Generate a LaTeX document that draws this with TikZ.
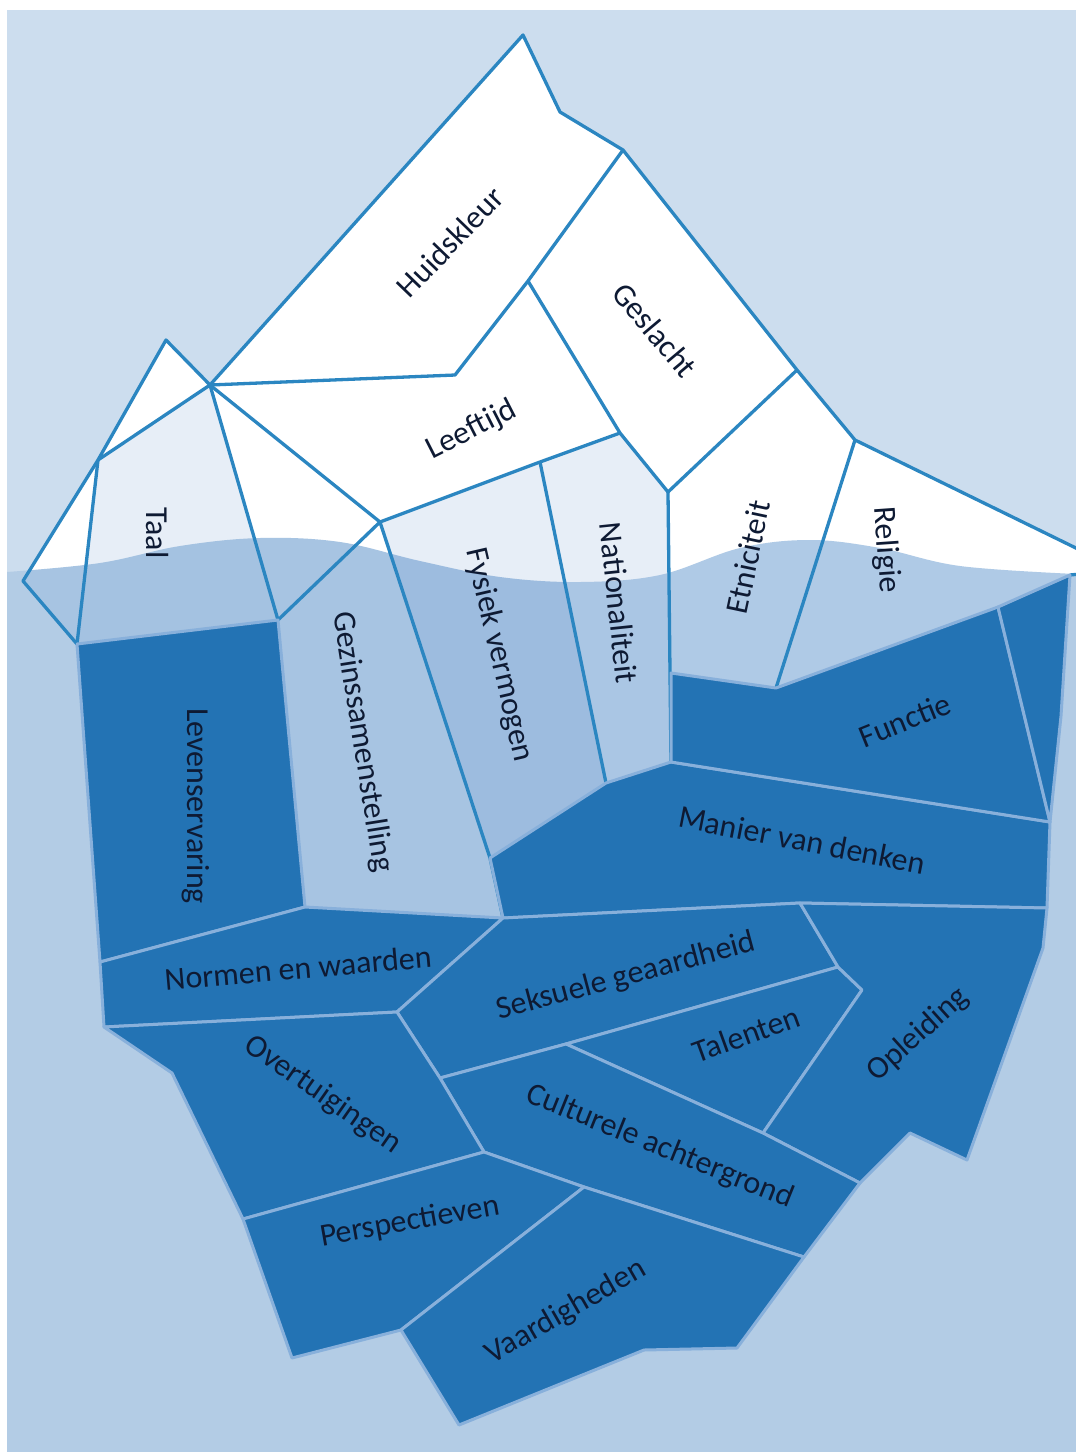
\documentclass[tikz,border=0pt]{standalone}
\usepackage{fontspec}
\setmainfont{Carlito}
\definecolor{sky}{HTML}{CCDDEE}
\definecolor{sea}{HTML}{B3CCE5}
\definecolor{edge}{HTML}{2B86C1}
\definecolor{deep}{HTML}{2373B4}
\definecolor{seam}{HTML}{88B0DB}
\definecolor{pale}{HTML}{E7EEF7}
\definecolor{ink}{HTML}{0E1A33}
\definecolor{uwA}{HTML}{A7C4E2}
\definecolor{uwB}{HTML}{A4C2E1}
\definecolor{uwC}{HTML}{9DBCDF}
\definecolor{uwD}{HTML}{AAC6E4}
\definecolor{uwE}{HTML}{AFCAE6}
\begin{document}
\begin{tikzpicture}[x=1pt,y=-1pt,
  lbl/.style={text=ink,font=\fontsize{32}{34}\selectfont,inner sep=0pt},
  upline/.style={draw=edge,line width=3.3pt,line join=round},
  darkcell/.style={fill=deep,draw=seam,line width=3pt,line join=round}]
\useasboundingbox (0,0) rectangle (1076,1452);
% coordinates
\coordinate (pk) at (523,35);  \coordinate (b1) at (560,112);
\coordinate (b2) at (623,150); \coordinate (b3) at (797,370);
\coordinate (b4) at (855,440); \coordinate (b5) at (1080,550);
\coordinate (b6) at (1080,574);\coordinate (r1) at (1070,575);
\coordinate (sp) at (166,340); \coordinate (hub) at (210,385);
\coordinate (tl) at (98,460);  \coordinate (lf) at (23,581);
\coordinate (lb) at (77,644);  \coordinate (h1) at (455,375);
\coordinate (h2) at (528,281); \coordinate (t1) at (278,620);
\coordinate (g1) at (380,522); \coordinate (f1) at (540,462);
\coordinate (n1) at (620,433); \coordinate (n2) at (668,492);
\coordinate (n3) at (671,762); \coordinate (n4) at (606,783);
\coordinate (f2) at (490,858); \coordinate (g2) at (503,918);
\coordinate (l1) at (305,907); \coordinate (e1) at (671,673);
\coordinate (e2) at (776,688); \coordinate (r2) at (998,607);
\coordinate (r3) at (1061,716);\coordinate (r4) at (1050,822);
\coordinate (m1) at (1047,908);\coordinate (m2) at (800,903);
\coordinate (nw1) at (100,962);\coordinate (nw2) at (397,1012);
\coordinate (nw3) at (104,1027);
\coordinate (s1) at (838,967); \coordinate (s2) at (566,1044);
\coordinate (s3) at (440,1078);\coordinate (t2) at (862,990);
\coordinate (t3) at (763,1133);\coordinate (o1) at (1043,948);
\coordinate (o2) at (967,1160);\coordinate (o3) at (910,1133);
\coordinate (o4) at (860,1183);\coordinate (c1) at (804,1257);
\coordinate (c2) at (584,1187);\coordinate (c3) at (484,1152);
\coordinate (ov1) at (243,1219);\coordinate (ov2) at (225,1182);
\coordinate (ov3) at (172,1073);\coordinate (p1) at (401,1330);
\coordinate (p2) at (292,1358);\coordinate (v1) at (737,1348);
\coordinate (v2) at (644,1350);\coordinate (v3) at (459,1425);
% cells of the top part
\def\cLeft{(tl) -- (lf) -- (lb) -- cycle}
\def\cPeak{(sp) -- (hub) -- (tl) -- cycle}
\def\cTaal{(tl) -- (hub) -- (t1) -- (lb) -- cycle}
\def\cTri{(hub) -- (g1) -- (t1) -- cycle}
\def\cGezin{(t1) -- (g1) -- (f2) -- (g2) -- (l1) -- cycle}
\def\cFys{(g1) -- (f1) -- (n4) -- (f2) -- cycle}
\def\cNat{(f1) -- (n1) -- (n2) -- (n3) -- (n4) -- cycle}
\def\cEtn{(n2) -- (b3) -- (b4) -- (e2) -- (e1) -- cycle}
\def\cRel{(b4) -- (b5) -- (b6) -- (r1) -- (r2) -- (e2) -- cycle}
\def\cLeef{(hub) -- (h1) -- (h2) -- (n1) -- (f1) -- (g1) -- cycle}
\def\cHuid{(pk) -- (b1) -- (b2) -- (h2) -- (h1) -- (hub) -- cycle}
\def\cGes{(h2) -- (b2) -- (b3) -- (n2) -- (n1) -- cycle}
\def\water{(0,1460) -- plot[smooth,tension=0.6] coordinates {(7,572) (100,563) (180,546) (260,538) (340,542) (420,561) (500,577) (580,582) (660,575) (740,548) (810,540) (880,548) (960,566) (1076,574)} -- (1084,1460) -- cycle}
% background
\fill[white] (0,0) rectangle (1076,1452);
\fill[sky] (7,10) rectangle (1076,1452);
\begin{scope}
\clip (7,10) rectangle (1076,1452);
\fill[sea] \water;
% top cells above water
\fill[white] \cLeft; \fill[white] \cPeak; \fill[pale] \cTaal;
\fill[white] \cTri; \fill[white] \cGezin; \fill[pale] \cFys;
\fill[pale] \cNat; \fill[white] \cEtn; \fill[white] \cRel;
\fill[white] \cLeef; \fill[white] \cHuid; \fill[white] \cGes;
% under water
\begin{scope}
\clip \water;
\fill[uwA] \cLeft; \fill[uwB] \cTaal; \fill[uwA] \cTri;
\fill[uwA] \cGezin; \fill[uwC] \cFys; \fill[uwD] \cNat;
\fill[uwE] \cEtn; \fill[uwE] \cRel;
\end{scope}
% outlines of top cells
\draw[upline] (r1) -- (b6) -- (b5) -- (b4) -- (b3) -- (b2) -- (b1) -- (pk) -- (hub) -- (sp) -- (tl) -- (lf) -- (lb);
\draw[upline] (tl) -- (hub) -- (t1);
\draw[upline] (tl) -- (lb);
\draw[upline] (hub) -- (g1) -- (t1);
\draw[upline] (hub) -- (h1) -- (h2) -- (b2);
\draw[upline] (h2) -- (n1) -- (n2) -- (b3);
\draw[upline] (g1) -- (f1) -- (n1);
\draw[upline] (g1) -- (f2) -- (g2);
\draw[upline] (f1) -- (n4);
\draw[upline] (n2) -- (n3);
\draw[upline] (b4) -- (e2);
% dark cells
\path[darkcell] (lb) -- (t1) -- (l1) -- (nw1) -- cycle;
\path[darkcell] (nw1) -- (l1) -- (g2) -- (nw2) -- (nw3) -- cycle;
\path[darkcell] (f2) -- (n4) -- (n3) -- (r4) -- (m1) -- (m2) -- (g2) -- cycle;
\path[darkcell] (e1) -- (e2) -- (r2) -- (r4) -- (n3) -- cycle;
\path[darkcell] (r2) -- (r1) -- (r3) -- (r4) -- cycle;
\path[darkcell] (g2) -- (m2) -- (s1) -- (s2) -- (s3) -- (nw2) -- cycle;
\path[darkcell] (s2) -- (s1) -- (t2) -- (t3) -- cycle;
\path[darkcell] (m2) -- (m1) -- (o1) -- (o2) -- (o3) -- (o4) -- (t3) -- (t2) -- (s1) -- cycle;
\path[darkcell] (s3) -- (s2) -- (t3) -- (o4) -- (c1) -- (c2) -- (c3) -- cycle;
\path[darkcell] (nw3) -- (nw2) -- (s3) -- (c3) -- (ov1) -- (ov2) -- (ov3) -- cycle;
\path[darkcell] (ov1) -- (c3) -- (c2) -- (p1) -- (p2) -- cycle;
\path[darkcell] (c2) -- (c1) -- (v1) -- (v2) -- (v3) -- (p1) -- cycle;
\end{scope}
% labels
\node[lbl,rotate=46] (huid) at (450,242) {Huidskleur};
\node[lbl,rotate=-50] (ges) at (655,330) {Geslacht};
\node[lbl,rotate=27] (leef) at (472,430) {Leeftijd};
\node[lbl,rotate=-90] (taal) at (157,533) {Taal};
\node[lbl,rotate=-81] (gezin) at (362,742) {Gezinssamenstelling};
\node[lbl,rotate=-90] (leven) at (196,806) {Levenservaring};
\node[lbl,rotate=-77] (fys) at (499,655) {Fysiek vermogen};
\node[lbl,rotate=-84] (nat) at (619,603) {Nationaliteit};
\node[lbl,rotate=78] (etn) at (748,557) {Etniciteit};
\node[lbl,rotate=-86] (rel) at (886,550) {Religie};
\node[lbl,rotate=22] (func) at (905,720) {Functie};
\node[lbl,rotate=-11] (man) at (802,840) {Manier van denken};
\node[lbl,rotate=5] (norm) at (298,968) {Normen en waarden};
\node[lbl,rotate=15] (sek) at (626,977) {Seksuele geaardheid};
\node[lbl,rotate=20] (tal) at (746,1034) {Talenten};
\node[lbl,rotate=42] (opl) at (918,1035) {Opleiding};
\node[lbl,rotate=-35] (over) at (323,1095) {Overtuigingen};
\node[lbl,rotate=-22] (cult) at (660,1147) {Culturele achtergrond};
\node[lbl,rotate=10] (pers) at (410,1222) {Perspectieven};
\node[lbl,rotate=30] (vaar) at (566,1312) {Vaardigheden};
\end{tikzpicture}
\end{document}
